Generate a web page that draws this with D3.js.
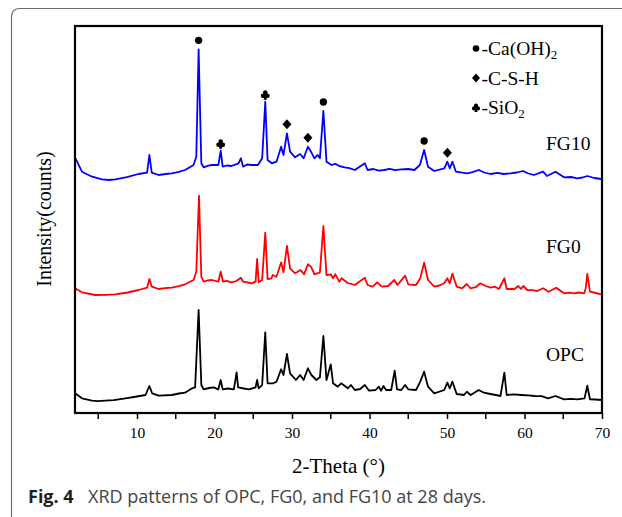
<!DOCTYPE html>
<html>
<head>
<meta charset="utf-8">
<script src="https://cdn.jsdelivr.net/npm/d3@7"></script>
<style>
    body { margin: 0; background: #fff; }
    svg { display: block; }
</style>
</head>
<body>
<div id="chart"></div>
<script>
// XRD patterns, 2-theta (deg) vs counts
const opc = [
    [2.0, 197], [2.9, 147], [4.2, 123], [5.0, 118], [5.9, 123], [7.0, 128], [8.5, 147], [9.6, 160], [11.1, 180], [11.6, 270], [11.95, 197],
    [12.8, 173], [14.5, 180], [15.4, 195], [16.2, 203], [17.1, 247], [17.5, 257], [17.95, 1030], [18.3, 280], [18.6, 237],
    [19.3, 250], [19.9, 257], [20.5, 237], [20.8, 330], [21.05, 237], [21.7, 245], [22.5, 237], [22.85, 407], [23.05, 257], [23.8, 245], [24.45, 237],
    [25.3, 257], [25.5, 330], [25.7, 247], [26.15, 280], [26.55, 807], [26.85, 297], [27.6, 297], [28.0, 313],
    [28.6, 437], [28.9, 380], [29.35, 590], [29.75, 397], [30.5, 330], [31.05, 380], [31.5, 330], [32.05, 447],
    [32.5, 380], [33.15, 330], [33.6, 357], [34.05, 770], [34.45, 330], [35.0, 487], [35.3, 297], [35.9, 263],
    [36.35, 297], [37.2, 247], [37.6, 280], [38.1, 230], [38.8, 240], [39.4, 280], [39.95, 223], [40.8, 230], [41.2, 263],
    [41.5, 223], [41.8, 270], [42.15, 230], [42.8, 230], [43.25, 423], [43.55, 237], [44.1, 230], [44.6, 280],
    [45.0, 237], [46.0, 230], [46.55, 313], [47.05, 413], [47.55, 263], [48.35, 197], [49.65, 230], [50.05, 303],
    [50.35, 247], [50.7, 313], [51.25, 190], [52.2, 180], [52.55, 213], [53.05, 180], [54.1, 230], [54.75, 203],
    [55.6, 190], [56.3, 180], [56.9, 170], [57.4, 403], [57.7, 180], [58.6, 186], [59.6, 180], [60.5, 176], [61.3, 170], [62.2, 168], [63.05, 147], [64.0, 170],
    [65.1, 137], [66.0, 142], [66.8, 137], [67.75, 147], [68.1, 273], [68.45, 137], [69.2, 135], [69.9, 130]
];

const fg0 = [
    [2.0, 247], [2.9, 207], [4.6, 180], [6.0, 182], [7.2, 187], [8.8, 205], [10.2, 230], [11.3, 253], [11.6, 340], [11.9, 263],
    [12.8, 240], [13.6, 248], [14.5, 253], [15.4, 268], [16.2, 287], [17.3, 330], [17.65, 413], [18.0, 1173], [18.3, 363], [18.6, 313],
    [19.1, 325], [19.65, 330], [20.5, 313], [20.8, 413], [21.1, 313], [21.6, 322], [22.2, 307], [22.8, 320], [23.4, 353], [23.7, 313], [24.3, 305], [24.8, 297],
    [25.3, 313], [25.5, 540], [25.7, 307], [26.15, 330], [26.55, 803], [26.85, 340], [27.35, 347], [27.5, 380],
    [28.0, 363], [28.6, 507], [28.9, 407], [29.35, 670], [29.75, 447], [30.4, 397], [31.1, 430], [31.55, 387],
    [32.05, 487], [32.45, 463], [32.9, 387], [33.6, 407], [34.05, 870], [34.45, 380], [35.0, 387], [35.3, 347],
    [35.6, 387], [36.1, 313], [36.4, 347], [37.2, 300], [38.1, 280], [39.4, 353], [39.75, 280], [40.4, 263], [41.0, 307],
    [41.6, 263], [42.4, 270], [43.2, 330], [43.6, 280], [44.6, 373], [45.0, 287], [46.0, 280], [46.55, 347], [47.05, 503],
    [47.55, 330], [48.35, 263], [49.0, 275], [49.65, 297], [50.05, 347], [50.35, 297], [50.7, 393], [51.25, 263], [51.95, 247],
    [52.55, 290], [53.05, 247], [53.7, 258], [54.3, 297], [55.0, 270], [55.6, 253], [56.2, 263], [56.7, 240], [57.4, 347],
    [57.7, 240], [58.7, 240], [59.2, 270], [59.55, 240], [59.85, 270], [60.35, 230], [61.0, 228], [61.65, 220], [62.4, 247],
    [63.1, 213], [64.1, 253], [65.1, 197], [65.8, 203], [66.4, 197], [67.0, 205], [67.7, 197], [67.9, 247], [68.1, 390], [68.45, 213],
    [69.2, 200], [69.9, 187]
];

const fg10 = [
    [2.05, 347], [2.9, 213], [4.2, 163], [5.5, 137], [6.4, 130], [7.2, 137], [8.7, 158], [10.2, 190], [11.3, 203],
    [11.6, 380], [11.9, 203], [12.8, 180], [13.7, 190], [14.5, 197], [15.4, 212], [16.2, 230], [17.3, 280], [17.65, 363], [17.95, 1437],
    [18.3, 297], [18.6, 257], [19.1, 272], [19.65, 280], [20.5, 280], [20.8, 423], [21.05, 263], [21.6, 275], [22.2, 270], [23.1, 297],
    [23.4, 347], [23.7, 263], [24.2, 285], [24.8, 280], [25.6, 280], [26.15, 347], [26.55, 913], [26.85, 330], [27.4, 297],
    [28.0, 313], [28.6, 463], [28.9, 380], [29.35, 597], [29.75, 413], [30.4, 357], [31.05, 390], [31.5, 347],
    [32.05, 463], [32.45, 413], [32.9, 347], [33.3, 380], [33.6, 347], [34.05, 820], [34.45, 313], [35.1, 280],
    [35.6, 292], [36.1, 270], [36.8, 257], [37.4, 248], [38.1, 230], [39.4, 297], [39.75, 230], [40.5, 240], [41.2, 224], [41.9, 230], [42.6, 242],
    [43.3, 228], [44.1, 237], [45.0, 240], [45.8, 230], [46.5, 280], [47.05, 430], [47.55, 263], [48.35, 220], [49.65, 247], [50.05, 313], [50.35, 247], [50.7, 313],
    [51.15, 213], [52.6, 197], [53.3, 208], [54.1, 230], [54.8, 205], [55.6, 190], [56.5, 202], [57.3, 190], [58.2, 197], [59.0, 205], [59.8, 220], [60.5, 195], [61.2, 180], [62.4, 213],
    [62.9, 170], [64.0, 213], [65.1, 157], [66.0, 160], [66.8, 147], [67.5, 155], [68.1, 170], [69.0, 150], [69.9, 140]
];

const seriesNames = ['OPC', 'FG0', 'FG10'];
const seriesOffsets = [0, 1000, 2200];
const seriesColors = ['#000000', '#ff0000', '#0000ff'];

const xTicks = [10, 20, 30, 40, 50, 60, 70];
const xMinorTicks = [5, 15, 25, 35, 45, 55, 65];

// phase marks above FG10 peaks
const phaseKeys = ['ch', 'csh', 'si'];
const phaseLabels = ['-Ca(OH)', '-C-S-H', '-SiO'];
const phaseSubs = ['2', '', '2'];
const fg10Peaks = [[17.95, 'ch'], [20.8, 'si'], [26.55, 'si'], [29.35, 'csh'], [32.05, 'csh'], [34.05, 'ch'], [47.05, 'ch'], [50.05, 'csh']];

const W = 622, H = 517;
const margin = {left: 75, top: 26, right: 20, bottom: 104};
const plotW = W - margin.left - margin.right,
    plotH = H - margin.top - margin.bottom;
const serif = '"Liberation Serif", "Times New Roman", serif';

const svg = d3.select('#chart').append('svg')
    .attr('width', W)
    .attr('height', H);

// figure frame
svg.append('path')
    .attr('d', 'M622,8.5 L20,8.5 Q11.5,8.5 11.5,17 L11.5,517')
    .attr('fill', 'none')
    .attr('stroke', '#6d6e71')
    .attr('stroke-width', 1.2);

const x = d3.scaleLinear().domain([2, 70]).range([0, plotW]);
const y = d3.scaleLinear().domain([0, 3870]).range([plotH, 0]);

const g = svg.append('g')
    .attr('transform', 'translate(' + margin.left + ', ' + margin.top + ')');

const line = d3.line()
    .x(d => x(d[0]))
    .y(d => y(d[1]));

[opc, fg0, fg10].forEach((data, i) => {
    g.append('path')
        .datum(data.map(d => [d[0], d[1] + seriesOffsets[i]]))
        .attr('d', line)
        .attr('fill', 'none')
        .attr('stroke', seriesColors[i])
        .attr('stroke-width', 1.8)
        .attr('stroke-linejoin', 'round');
});

// x axis, ticks pointing out
const xAxis = g.append('g')
    .attr('transform', 'translate(0, ' + plotH + ')')
    .call(d3.axisBottom(x).tickValues(xTicks).tickSize(6).tickPadding(8).tickFormat(d3.format('d')))
    .attr('font-family', serif)
    .attr('font-size', 15.5);
xAxis.select('.domain').remove();
xAxis.selectAll('line').attr('stroke-width', 1.5);
xAxis.selectAll('text')
    .attr('fill', '#000')
    .style('font-family', serif);

g.append('g')
    .selectAll('line')
    .data(xMinorTicks)
    .join('line')
    .attr('x1', d => x(d))
    .attr('x2', d => x(d))
    .attr('y1', plotH)
    .attr('y2', plotH + 6)
    .attr('stroke', '#000')
    .attr('stroke-width', 1.5);

g.append('rect')
    .attr('width', plotW)
    .attr('height', plotH)
    .attr('fill', 'none')
    .attr('stroke', '#000')
    .attr('stroke-width', 2.2);

// symbols
const club = {
    draw(ctx, size) {
        const r = Math.sqrt(size) / 4;
        const d = r * 0.95;
        ctx.moveTo(r, -d);
        ctx.arc(0, -d, r, 0, 2 * Math.PI);
        ctx.moveTo(-d + r, d * 0.45);
        ctx.arc(-d, d * 0.45, r, 0, 2 * Math.PI);
        ctx.moveTo(d + r, d * 0.45);
        ctx.arc(d, d * 0.45, r, 0, 2 * Math.PI);
        ctx.moveTo(0, 0);
        ctx.lineTo(r * 0.75, r * 2.2);
        ctx.lineTo(-r * 0.75, r * 2.2);
        ctx.closePath();
    }
};
const diamond = {
    draw(ctx, size) {
        const h = Math.sqrt(size) / 2;
        ctx.moveTo(0, -h);
        ctx.lineTo(h * 0.9, 0);
        ctx.lineTo(0, h);
        ctx.lineTo(-h * 0.9, 0);
        ctx.closePath();
    }
};
const symbolTypes = {ch: d3.symbolCircle, csh: diamond, si: club};
const symbolSizes = {ch: 42, csh: 100, si: 85};
const symbolGaps = {ch: 9, csh: 9, si: 7};

g.append('g')
    .selectAll('path')
    .data(fg10Peaks)
    .join('path')
    .attr('transform', d => {
        const p = fg10.reduce((a, b) => Math.abs(b[0] - d[0]) < Math.abs(a[0] - d[0]) ? b : a);
        return 'translate(' + x(p[0]) + ', ' + (y(p[1] + seriesOffsets[2]) - symbolGaps[d[1]]) + ')';
    })
    .attr('d', d => d3.symbol().type(symbolTypes[d[1]]).size(symbolSizes[d[1]])())
    .attr('fill', '#000');

// legend
const legend = g.append('g')
    .attr('transform', 'translate(' + (475 - margin.left) + ', ' + (55 - margin.top) + ')');
const legendSizes = {ch: 34, csh: 80, si: 70};
phaseKeys.forEach((k, i) => {
    const row = legend.append('g').attr('transform', 'translate(0, ' + (i * 29.5) + ')');
    row.append('path')
        .attr('transform', 'translate(1, -6.5)')
        .attr('d', d3.symbol().type(symbolTypes[k]).size(legendSizes[k])())
        .attr('fill', '#000');
    const t = row.append('text')
        .attr('x', 6.5)
        .attr('font-family', serif)
        .attr('font-size', 19.5)
        .text(phaseLabels[i]);
    if (phaseSubs[i]) {
        t.append('tspan')
            .attr('font-size', 13)
            .attr('dy', 4)
            .text(phaseSubs[i]);
    }
});

// series labels
const labelY = [361, 253, 150];
seriesNames.forEach((name, i) => {
    svg.append('text')
        .attr('x', 546)
        .attr('y', labelY[i])
        .attr('font-family', serif)
        .attr('font-size', 19.5)
        .text(name);
});

// axis titles
svg.append('text')
    .attr('x', margin.left + plotW / 2)
    .attr('y', 473)
    .attr('text-anchor', 'middle')
    .attr('font-family', serif)
    .attr('font-size', 21)
    .text('2-Theta (°)');

svg.append('text')
    .attr('transform', 'translate(51, 219) rotate(-90)')
    .attr('text-anchor', 'middle')
    .attr('font-family', serif)
    .attr('font-size', 20)
    .text('Intensity(counts)');

// caption
const cap = svg.append('text')
    .attr('x', 28)
    .attr('y', 503)
    .attr('font-family', '"Open Sans", "Noto Sans", sans-serif')
    .attr('font-size', 18);
cap.append('tspan')
    .attr('font-weight', 'bold')
    .attr('fill', '#231f20')
    .text('Fig. 4');
cap.append('tspan')
    .attr('x', 88)
    .attr('fill', '#444')
    .text('XRD patterns of OPC, FG0, and FG10 at 28 days.');
</script>
</body>
</html>
